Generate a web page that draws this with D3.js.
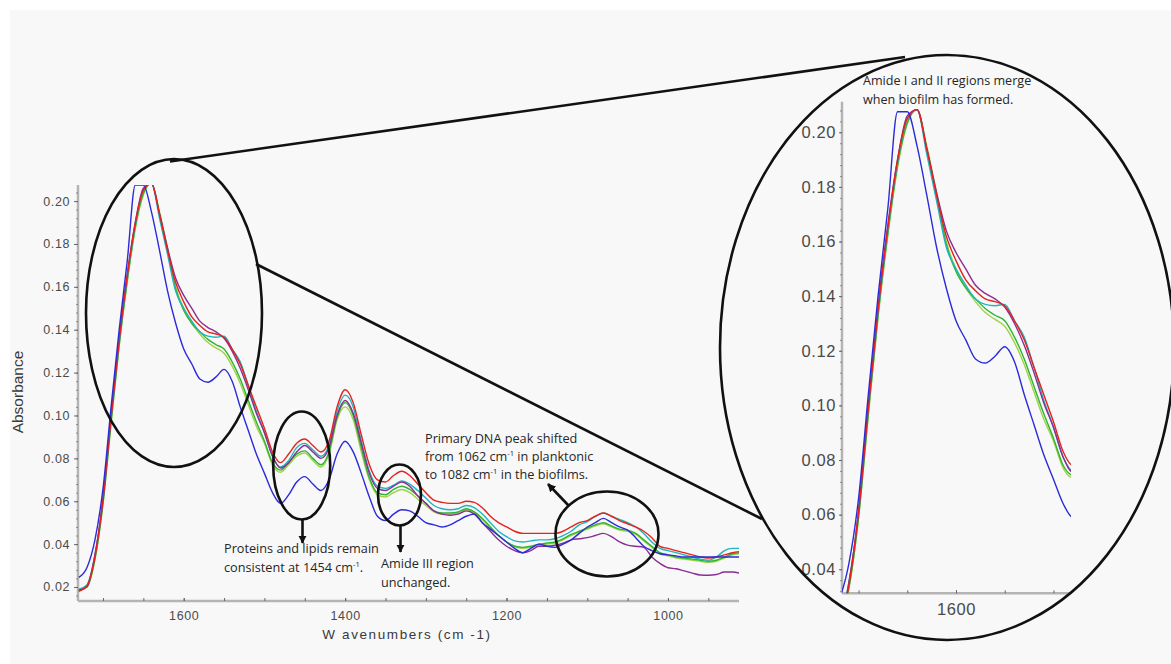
<!DOCTYPE html>
<html>
<head>
<meta charset="utf-8">
<script src="https://cdn.jsdelivr.net/npm/d3@7"></script>
<style>
html,body{margin:0;padding:0;background:#fff;}
svg{display:block;}
</style>
</head>
<body>
<div id="chart"></div>
<script>
// ---------------- DATA ----------------
const wavenumbers = [
  1730,1720,1710,1700,1690,1680,1670,1660,1650,1640,
  1630,1620,1610,1600,1590,1580,1570,1560,1550,1540,
  1530,1520,1510,1500,1490,1480,1470,1460,1450,1440,
  1430,1420,1410,1400,1390,1380,1370,1360,1350,1340,
  1330,1320,1310,1300,1290,1280,1270,1260,1250,1240,
  1230,1220,1210,1200,1190,1180,1170,1160,1150,1140,
  1130,1120,1110,1100,1090,1080,1070,1060,1050,1040,
  1030,1020,1010,1000,990,980,970,960,950,940,
  930,920,912
];
const lightGreenSeries = [
  0.0185,0.020,0.033,0.059,0.096,0.132,0.162,0.187,0.203,0.2083,
  0.195,0.178,0.160,0.150,0.143,0.138,0.134,0.1315,0.129,0.123,
  0.115,0.105,0.095,0.087,0.077,0.0735,0.077,0.081,0.0825,0.079,
  0.076,0.082,0.098,0.104,0.098,0.083,0.070,0.063,0.062,0.064,
  0.0655,0.064,0.061,0.058,0.055,0.054,0.054,0.0545,0.056,0.0545,
  0.0515,0.0475,0.044,0.041,0.039,0.038,0.0385,0.0395,0.040,0.0405,
  0.042,0.044,0.0455,0.047,0.0485,0.0495,0.048,0.0465,0.046,0.0445,
  0.0415,0.0385,0.0355,0.0345,0.0335,0.033,0.0325,0.032,0.0315,0.032,
  0.0335,0.035,0.0355
];
const greenSeries = [
  0.0185,0.020,0.033,0.059,0.097,0.133,0.163,0.188,0.2035,0.2083,
  0.194,0.177,0.159,0.149,0.143,0.139,0.1355,0.133,0.131,0.125,
  0.117,0.107,0.097,0.088,0.078,0.0745,0.078,0.082,0.0835,0.080,
  0.077,0.083,0.099,0.106,0.100,0.085,0.071,0.064,0.063,0.0655,
  0.067,0.0655,0.0625,0.059,0.0555,0.0545,0.0545,0.055,0.0565,0.055,
  0.052,0.048,0.044,0.041,0.039,0.0385,0.039,0.040,0.0405,0.041,
  0.0425,0.0445,0.046,0.0475,0.049,0.050,0.0485,0.047,0.0465,0.045,
  0.042,0.039,0.036,0.035,0.034,0.0335,0.033,0.0325,0.032,0.0325,
  0.034,0.0355,0.036
];
const cyanSeries = [
  0.019,0.021,0.035,0.061,0.099,0.134,0.164,0.189,0.205,0.2083,
  0.192,0.175,0.158,0.150,0.144,0.139,0.137,0.1365,0.137,0.131,
  0.125,0.114,0.102,0.092,0.081,0.076,0.079,0.085,0.087,0.084,
  0.081,0.086,0.102,0.1095,0.104,0.088,0.074,0.067,0.066,0.0675,
  0.0695,0.068,0.065,0.0615,0.058,0.0565,0.056,0.0565,0.058,0.057,
  0.054,0.050,0.046,0.0435,0.0415,0.041,0.0415,0.042,0.042,0.0425,
  0.044,0.046,0.049,0.0505,0.053,0.0545,0.053,0.0515,0.050,0.048,
  0.045,0.041,0.038,0.037,0.036,0.035,0.034,0.033,0.0325,0.034,
  0.037,0.038,0.038
];
const purpleSeries = [
  0.0185,0.020,0.035,0.061,0.100,0.136,0.166,0.190,0.206,0.2083,
  0.194,0.178,0.164,0.156,0.150,0.144,0.141,0.139,0.136,0.130,
  0.122,0.112,0.101,0.092,0.081,0.0755,0.078,0.083,0.086,0.083,
  0.080,0.085,0.100,0.107,0.101,0.087,0.073,0.066,0.065,0.067,
  0.069,0.067,0.0625,0.059,0.0555,0.054,0.0535,0.054,0.0555,0.054,
  0.050,0.046,0.042,0.039,0.037,0.036,0.037,0.039,0.039,0.0395,
  0.0405,0.042,0.0425,0.043,0.044,0.045,0.0435,0.041,0.0395,0.039,
  0.0385,0.034,0.031,0.029,0.0285,0.0275,0.0265,0.0256,0.0255,0.0258,
  0.027,0.027,0.0265
];
const redSeries = [
  0.018,0.0205,0.034,0.061,0.099,0.135,0.165,0.190,0.205,0.2083,
  0.194,0.177,0.162,0.153,0.146,0.142,0.139,0.138,0.1365,0.131,
  0.124,0.114,0.104,0.094,0.083,0.078,0.082,0.087,0.089,0.086,
  0.083,0.088,0.104,0.112,0.106,0.091,0.077,0.070,0.069,0.072,
  0.074,0.072,0.068,0.064,0.0605,0.0595,0.059,0.059,0.060,0.0595,
  0.057,0.053,0.050,0.048,0.046,0.045,0.045,0.045,0.045,0.045,
  0.046,0.048,0.050,0.051,0.053,0.0545,0.053,0.051,0.0495,0.048,
  0.046,0.043,0.039,0.038,0.037,0.036,0.035,0.034,0.0335,0.034,
  0.035,0.036,0.0365
];
const blueSeries = [
  0.0245,0.029,0.042,0.066,0.104,0.140,0.172,0.2075,0.2075,0.195,
  0.177,0.158,0.143,0.131,0.124,0.117,0.1155,0.118,0.1215,0.116,
  0.104,0.093,0.082,0.073,0.064,0.059,0.063,0.069,0.0715,0.068,
  0.065,0.070,0.082,0.088,0.083,0.073,0.062,0.053,0.051,0.054,
  0.056,0.0555,0.053,0.050,0.049,0.048,0.049,0.051,0.053,0.054,
  0.050,0.047,0.044,0.041,0.038,0.036,0.038,0.040,0.039,0.0385,
  0.040,0.042,0.045,0.048,0.050,0.052,0.050,0.048,0.0465,0.043,
  0.039,0.037,0.0355,0.035,0.0345,0.034,0.034,0.034,0.034,0.034,
  0.034,0.034,0.034
];
const seriesNames = ["lightgreen","green","cyan","purple","red","blue"];
const seriesColors = ["#9fd24a","#2fb52f","#1fb4bf","#8b2d95","#e5221c","#2b2bd9"];
const seriesValues = [lightGreenSeries,greenSeries,cyanSeries,purpleSeries,redSeries,blueSeries];

const mainYTicks = [0.02,0.04,0.06,0.08,0.10,0.12,0.14,0.16,0.18,0.20];
const mainXTicks = [1600,1400,1200,1000];
const insetYTicks = [0.04,0.06,0.08,0.10,0.12,0.14,0.16,0.18,0.20];
const insetXTicks = [1600];

// ---------------- DRAW ----------------
const W = 1171, H = 664;
const svg = d3.select("#chart").append("svg").attr("width", W).attr("height", H);
svg.append("rect").attr("width", W).attr("height", H).attr("fill", "#ffffff");
svg.append("rect").attr("x", 10).attr("y", 10).attr("width", W - 10).attr("height", H - 10).attr("fill", "#f8f8f8");

const tickFont = "'Liberation Sans', Arial, sans-serif";
const noteFont = "'Open Sans', 'DejaVu Sans', sans-serif";

function series(i) {
  return wavenumbers.map((w, k) => ({w: w, v: seriesValues[i][k]}));
}

function drawPanel(cfg) {
  const g = svg.append("g");
  const x = d3.scaleLinear().domain(cfg.xDomain).range(cfg.xRange);
  const y = d3.scaleLinear().domain(cfg.yDomain).range(cfg.yRange);
  const clipId = "clip-" + cfg.id;
  svg.append("clipPath").attr("id", clipId).append("rect")
    .attr("x", cfg.xRange[0]).attr("y", cfg.yRange[1])
    .attr("width", cfg.xRange[1] - cfg.xRange[0]).attr("height", cfg.yRange[0] - cfg.yRange[1]);

  g.append("line").attr("x1", cfg.xRange[0]).attr("x2", cfg.xRange[0])
    .attr("y1", cfg.yRange[1]).attr("y2", cfg.yRange[0])
    .attr("stroke", "#b4b4b4").attr("stroke-width", 2.5);
  g.append("line").attr("x1", cfg.xRange[0]).attr("x2", cfg.xRange[1])
    .attr("y1", cfg.yRange[0]).attr("y2", cfg.yRange[0])
    .attr("stroke", "#b4b4b4").attr("stroke-width", 2.5);

  const yMinor = d3.range(Math.ceil(cfg.yDomain[0] / 0.004) * 0.004, cfg.yDomain[1], 0.004);
  const yMinorAxis = d3.axisLeft(y).tickValues(yMinor).tickSize(2).tickFormat("");
  g.append("g").attr("transform", `translate(${cfg.xRange[0]},0)`).call(yMinorAxis)
    .call(s => { s.select(".domain").remove(); s.selectAll("line").attr("stroke", "#777").attr("stroke-width", 0.8); });

  const yAxis = d3.axisLeft(y).tickValues(cfg.yTicks).tickSize(cfg.majorTick).tickPadding(cfg.pad).tickFormat(d3.format(".2f"));
  g.append("g").attr("transform", `translate(${cfg.xRange[0]},0)`).call(yAxis)
    .call(s => {
      s.select(".domain").remove();
      s.selectAll("line").attr("stroke", "#666").attr("stroke-width", 1);
      s.selectAll("text").attr("font-family", tickFont).attr("font-size", cfg.fs)
        .attr("fill", "#4a4a4a").attr("letter-spacing", cfg.ls);
    });

  const xMinor = d3.range(Math.ceil(Math.min(...cfg.xDomain) / 50) * 50, Math.max(...cfg.xDomain), 50);
  const xMinorAxis = d3.axisBottom(x).tickValues(xMinor).tickSize(-3).tickFormat("");
  g.append("g").attr("transform", `translate(0,${cfg.yRange[0]})`).call(xMinorAxis)
    .call(s => { s.select(".domain").remove(); s.selectAll("line").attr("stroke", "#666").attr("stroke-width", 1); });

  const xAxis = d3.axisBottom(x).tickValues(cfg.xTicks).tickSize(-3).tickPadding(cfg.xpad).tickFormat(d3.format("d"));
  g.append("g").attr("transform", `translate(0,${cfg.yRange[0]})`).call(xAxis)
    .call(s => {
      s.select(".domain").remove();
      s.selectAll("line").attr("stroke", "#666");
      s.selectAll("text").attr("font-family", tickFont).attr("font-size", cfg.fs)
        .attr("fill", "#4a4a4a").attr("letter-spacing", cfg.ls);
    });

  const line = d3.line().x(d => x(d.w)).y(d => y(d.v)).curve(d3.curveMonotoneX);
  const lg = g.append("g").attr("clip-path", `url(#${clipId})`);
  seriesNames.forEach((n, i) => {
    lg.append("path").datum(series(i)).attr("d", line)
      .attr("fill", "none").attr("stroke", seriesColors[i]).attr("stroke-width", 1.4)
      .attr("stroke-linejoin", "round");
  });
  return {x, y};
}

drawPanel({
  id: "main", xDomain: [1731, 912], xRange: [78, 739],
  yDomain: [0.01347, 0.2075], yRange: [601, 185],
  yTicks: mainYTicks, xTicks: mainXTicks, fs: 12.5, ls: 0.6, pad: 4, xpad: 10, majorTick: 4
});
drawPanel({
  id: "inset", xDomain: [1717, 1482], xRange: [842, 1071],
  yDomain: [0.0312, 0.2112], yRange: [593.3, 101.7],
  yTicks: insetYTicks, xTicks: insetXTicks, fs: 16.5, ls: 0.6, pad: 3, xpad: 10, majorTick: 3
});

svg.append("text").attr("transform", "translate(23,392) rotate(-90)")
  .attr("text-anchor", "middle").attr("font-family", tickFont).attr("font-size", 15.5)
  .attr("fill", "#3a3a3a").text("Absorbance");
svg.append("text").attr("x", 407).attr("y", 639).attr("text-anchor", "middle")
  .attr("font-family", tickFont).attr("font-size", 13.5).attr("letter-spacing", 1.6)
  .attr("fill", "#3a3a3a").text("W avenumbers (cm -1)");

// ---------------- ANNOTATIONS ----------------
const ann = svg.append("g").attr("fill", "none").attr("stroke", "#111").attr("stroke-width", 2.6);
ann.append("ellipse").attr("cx", 174).attr("cy", 313).attr("rx", 88).attr("ry", 154);
ann.append("ellipse").attr("cx", 301.7).attr("cy", 465.5).attr("rx", 28.5).attr("ry", 54);
ann.append("ellipse").attr("cx", 399.5).attr("cy", 495).attr("rx", 21.5).attr("ry", 30.5);
ann.append("ellipse").attr("cx", 607).attr("cy", 534).attr("rx", 51.5).attr("ry", 42.5);
ann.append("ellipse").attr("cx", 947).attr("cy", 347.5).attr("rx", 227).attr("ry", 292.5);
ann.append("line").attr("x1", 170).attr("y1", 161.5).attr("x2", 905).attr("y2", 57);
ann.append("line").attr("x1", 256).attr("y1", 264).attr("x2", 762).attr("y2", 519);

const defs = svg.append("defs");
defs.append("marker").attr("id", "arrow").attr("viewBox", "0 0 10 10").attr("refX", 9).attr("refY", 5)
  .attr("markerWidth", 3.2).attr("markerHeight", 3.2).attr("orient", "auto")
  .append("path").attr("d", "M0,0 L10,5 L0,10 z").attr("fill", "#111");
ann.append("line").attr("x1", 302.5).attr("y1", 519.5).attr("x2", 302.5).attr("y2", 543).attr("marker-end", "url(#arrow)");
ann.append("line").attr("x1", 400.5).attr("y1", 525.5).attr("x2", 400.5).attr("y2", 552).attr("marker-end", "url(#arrow)");
ann.append("line").attr("x1", 569).attr("y1", 506).attr("x2", 548).attr("y2", 484).attr("marker-end", "url(#arrow)");

function note(x, y, parts, fs) {
  const t = svg.append("text").attr("x", x).attr("y", y).attr("font-family", noteFont)
    .attr("font-size", fs).attr("fill", "#262626");
  let shift = 0;
  parts.forEach(p => {
    if (p.sup) {
      t.append("tspan").attr("font-size", fs * 0.6).attr("dy", -5).text(p.t);
      shift = 5;
    } else {
      const s = t.append("tspan").text(p.t);
      if (shift) { s.attr("dy", shift); shift = 0; }
    }
  });
  return t;
}
const nfs = 12.7;
note(224, 553, [{t: "Proteins and lipids remain"}], nfs);
note(224, 572, [{t: "consistent at 1454 cm"}, {t: "-1", sup: true}, {t: "."}], nfs);
note(381, 568, [{t: "Amide III region"}], nfs);
note(381, 587, [{t: "unchanged."}], nfs);
note(425, 443, [{t: "Primary DNA peak shifted"}], nfs);
note(425, 461, [{t: "from 1062 cm"}, {t: "-1", sup: true}, {t: " in planktonic"}], nfs);
note(425, 479, [{t: "to 1082 cm"}, {t: "-1", sup: true}, {t: " in the biofilms."}], nfs);
note(863, 85, [{t: "Amide I and II regions merge"}], 12.6);
note(863, 104, [{t: "when biofilm has formed."}], 12.6);
</script>
</body>
</html>
